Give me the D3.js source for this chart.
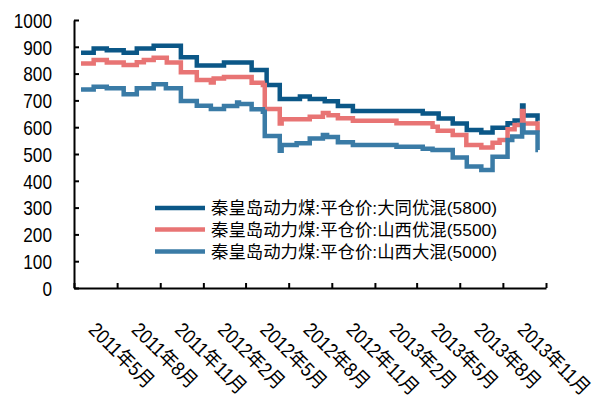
<!DOCTYPE html>
<html><head><meta charset="utf-8">
<script src="https://cdnjs.cloudflare.com/ajax/libs/d3/7.8.5/d3.min.js"></script>
<style>
body{margin:0;background:#fff;}
svg{display:block;}
text{font-family:"Liberation Sans","Noto Sans CJK SC",sans-serif;fill:#000;}
</style></head>
<body><svg id="c" width="600" height="408"></svg>
<script>
const seriesNames = ["秦皇岛动力煤:平仓价:大同优混(5800)","秦皇岛动力煤:平仓价:山西优混(5500)","秦皇岛动力煤:平仓价:山西大混(5000)"];
const seriesColors = ["#0b5787","#e87474","#3a7ba6"];
const yTicks = [0,100,200,300,400,500,600,700,800,900,1000];
const xTickDates = ["2011-05-01","2011-08-01","2011-11-01","2012-02-01","2012-05-01","2012-08-01","2012-11-01","2013-02-01","2013-05-01","2013-08-01","2013-11-01","2014-02-01"];
const xTickLabels = ["2011年5月","2011年8月","2011年11月","2012年2月","2012年5月","2012年8月","2012年11月","2013年2月","2013年5月","2013年8月","2013年11月",""];

const datong5800 = [
["2011-05-16",878],["2011-06-12",894],["2011-07-10",887],["2011-08-15",878],["2011-09-12",894],
["2011-10-18",904],["2011-12-15",861],["2012-01-18",830],["2012-03-16",841],["2012-05-14",813],
["2012-06-15",757],["2012-07-13",705],["2012-08-25",715],["2012-09-15",705],["2012-10-17",697],
["2012-11-14",679],["2012-12-16",660],["2013-05-14",651],["2013-06-17",632],["2013-07-17",614],
["2013-08-16",590],["2013-09-16",580],["2013-10-10",598],["2013-11-11",615],["2013-11-26",625],
["2013-12-12",681],["2013-12-15",644],["2014-01-14",624],["2014-01-15",624]];
const shanxi5500 = [
["2011-05-16",838],["2011-06-12",851],["2011-07-10",841],["2011-08-15",832],["2011-09-12",842],
["2011-09-27",851],["2011-10-18",859],["2011-11-15",841],["2011-12-15",805],["2012-01-18",776],
["2012-02-17",767],["2012-02-23",782],["2012-03-16",787],["2012-05-14",766],["2012-06-07",757],
["2012-06-11",668],["2012-07-13",614],["2012-07-17",630],["2012-09-15",639],["2012-10-13",653],
["2012-10-25",645],["2012-11-14",633],["2012-12-16",624],["2013-03-19",615],["2013-06-04",602],
["2013-06-15",587],["2013-07-17",571],["2013-08-15",534],["2013-09-16",524],["2013-10-10",542],
["2013-10-25",552],["2013-11-11",592],["2013-11-26",608],["2013-12-12",660],["2013-12-15",614],
["2014-01-14",583],["2014-01-15",583]];
const shanxi5000 = [
["2011-05-16",741],["2011-06-12",751],["2011-07-10",745],["2011-08-15",723],["2011-09-12",745],
["2011-10-18",760],["2011-11-13",745],["2011-12-15",698],["2012-01-18",680],["2012-02-17",668],
["2012-03-16",679],["2012-04-13",692],["2012-04-17",687],["2012-05-14",667],["2012-06-07",658],
["2012-06-11",567],["2012-07-13",512],["2012-07-17",534],["2012-08-18",540],["2012-09-15",558],
["2012-10-13",571],["2012-10-22",563],["2012-11-14",544],["2012-12-16",534],["2013-03-19",527],
["2013-05-14",520],["2013-06-04",515],["2013-07-17",487],["2013-08-16",453],["2013-09-16",440],
["2013-10-10",490],["2013-11-11",552],["2013-11-21",565],["2013-12-12",608],["2013-12-15",580],
["2014-01-14",515],["2014-01-15",515]];

const allSeries = [datong5800, shanxi5500, shanxi5000];
const parse = d3.timeParse("%Y-%m-%d");

const svg = d3.select("#c");
const mL=74, mR=546, mT=20, mB=288;

const x = d3.scaleTime().domain([parse(xTickDates[0]), parse(xTickDates[xTickDates.length-1])]).range([mL,mR]);
const y = d3.scaleLinear().domain([0,1000]).range([mB,mT]);

const line = d3.line().x(d=>x(parse(d[0]))).y(d=>y(d[1])).curve(d3.curveStepAfter);

allSeries.forEach((s,i)=>{
  svg.append("path").datum(s).attr("d",line)
    .attr("fill","none").attr("stroke",seriesColors[i]).attr("stroke-width",4.5)
    .attr("stroke-linejoin","miter");
});

// axes
const yAxis = d3.axisLeft(y).tickValues(yTicks).tickFormat(d3.format("d"))
  .tickSizeInner(-5).tickSizeOuter(0).tickPadding(22);
const gy = svg.append("g").attr("transform",`translate(${mL},0)`).call(yAxis);
gy.selectAll("text").style("font-size","20px").attr("x",0).attr("dy","0.36em")
  .attr("transform","translate(-22,0) scale(0.86,1)");

const xAxis = d3.axisBottom(x).tickValues(xTickDates.map(parse)).tickSizeInner(-5).tickSizeOuter(0)
  .tickFormat((d,i)=>xTickLabels[i]);
const gx = svg.append("g").attr("transform",`translate(0,${mB})`).call(xAxis);
gx.selectAll("text").style("font-size","20px").attr("x",null).attr("y",null).attr("dy",null)
  .attr("text-anchor","start").attr("transform","translate(13,43) rotate(45) scale(0.88,1)");

[gx,gy].forEach(g=>{
  g.select(".domain").attr("stroke","#000").attr("stroke-width",2);
  g.selectAll(".tick line").attr("stroke","#000").attr("stroke-width",2);
});

// legend
const legY = [208,229.5,251.5];
seriesNames.forEach((n,i)=>{
  svg.append("line").attr("x1",155).attr("x2",205).attr("y1",legY[i]).attr("y2",legY[i])
    .attr("stroke",seriesColors[i]).attr("stroke-width",4.5);
  svg.append("text").attr("x",211).attr("y",legY[i]).attr("dy","0.36em")
    .style("font-size","17.4px").text(n);
});
</script></body></html>
